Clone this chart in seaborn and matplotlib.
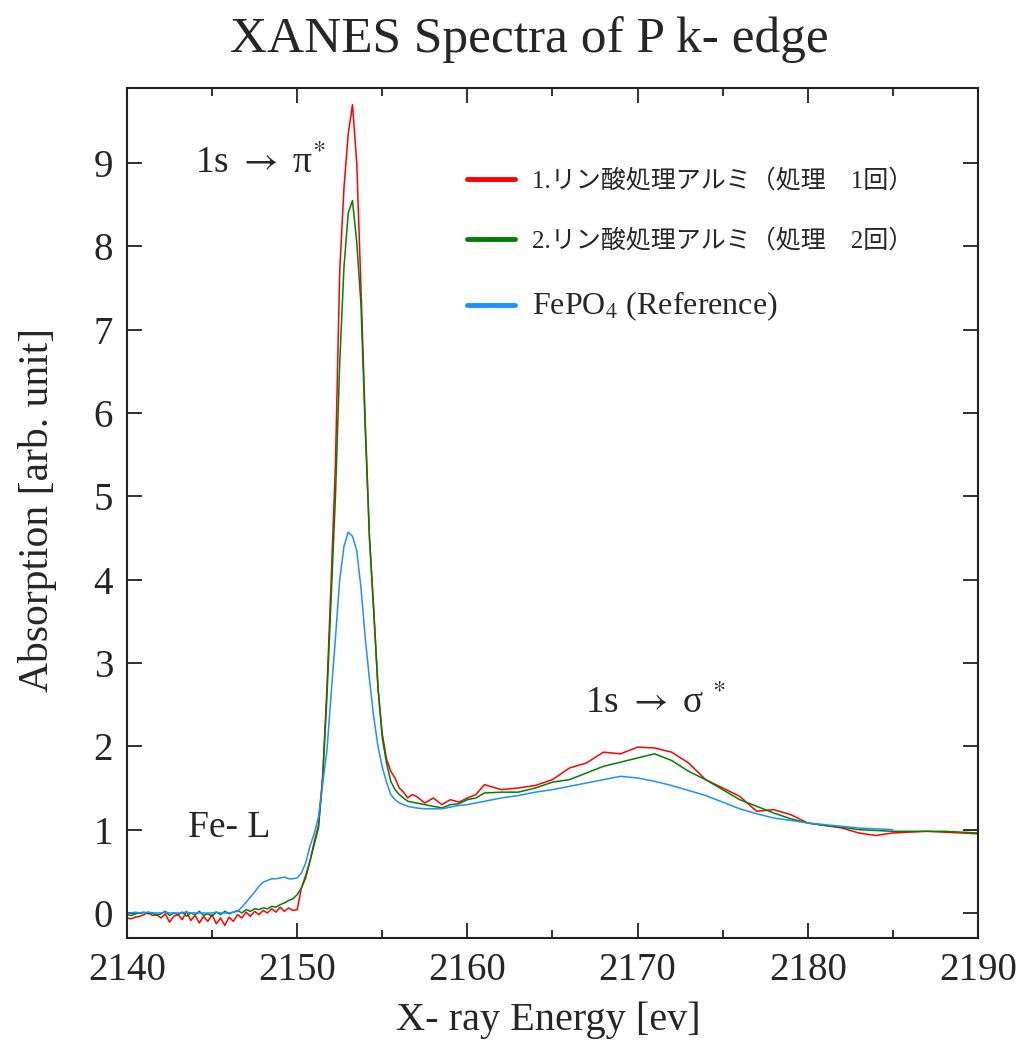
import numpy as np
import matplotlib
matplotlib.use('Agg')
import matplotlib.pyplot as plt
from matplotlib.ticker import MultipleLocator
import seaborn as sns

# X-ray energy grid [eV] (fine around the edge, coarser above it)
energy = [
    2140.0, 2140.25, 2140.5, 2140.75, 2141.0, 2141.25, 2141.5, 2141.75, 2142.0, 2142.25,
    2142.5, 2142.75, 2143.0, 2143.25, 2143.5, 2143.75, 2144.0, 2144.25, 2144.5, 2144.75,
    2145.0, 2145.25, 2145.5, 2145.75, 2146.0, 2146.25, 2146.5, 2146.75, 2147.0, 2147.25,
    2147.5, 2147.75, 2148.0, 2148.25, 2148.5, 2148.75, 2149.0, 2149.25, 2149.5, 2149.75,
    2150.0,
    2150.25, 2150.5, 2150.75, 2151.0, 2151.25, 2151.5, 2151.75, 2152.0, 2152.25, 2152.5,
    2152.75, 2153.0, 2153.25, 2153.5, 2153.75, 2154.0, 2154.25, 2154.5, 2154.75, 2155.0,
    2155.25, 2155.5, 2155.75, 2156.0, 2156.25, 2156.5, 2156.75, 2157.0,
    2157.5, 2158.0, 2158.5, 2159.0, 2159.5, 2160.0, 2160.5, 2161.0,
    2162, 2163, 2164, 2165, 2166, 2167, 2168, 2169, 2170, 2171,
    2172, 2173, 2174, 2175, 2176, 2177, 2178, 2179, 2180, 2181,
    2182, 2183, 2184, 2185, 2186, 2187, 2188, 2189, 2190,
]

# 1. リン酸処理アルミ (1 treatment)
sample1 = [
    -0.06, -0.07, -0.05, -0.04, -0.02, 0.01, -0.03, -0.02, -0.06, -0.01,
    -0.11, -0.04, -0.02, -0.08, 0.02, -0.09, -0.03, -0.12, -0.04, -0.10,
    -0.02, -0.13, -0.06, -0.15, -0.05, -0.10, -0.02, -0.06, 0.01, -0.04,
    0.02, -0.02, 0.03, 0.00, 0.05, 0.01, 0.07, 0.02, 0.06, 0.03,
    0.04,
    0.30, 0.42, 0.62, 0.85, 1.05, 1.65, 2.70, 4.00, 5.40, 7.70,
    8.70, 9.35, 9.70, 9.00, 7.50, 5.90, 4.50, 3.65, 2.70, 2.15,
    1.85, 1.70, 1.62, 1.50, 1.45, 1.38, 1.42, 1.40,
    1.32, 1.38, 1.30, 1.36, 1.33, 1.38, 1.42, 1.54,
    1.48, 1.50, 1.53, 1.60, 1.74, 1.80, 1.93, 1.91, 1.99, 1.98,
    1.93, 1.80, 1.60, 1.50, 1.40, 1.22, 1.24, 1.18, 1.08, 1.05,
    1.02, 0.96, 0.93, 0.96, 0.97, 0.98, 0.97, 0.96, 0.95,
]

# 2. リン酸処理アルミ (2 treatments)
sample2 = [
    -0.02, -0.03, -0.01, 0.00, 0.01, -0.01, 0.00, -0.03, -0.01, 0.02,
    -0.03, 0.00, -0.02, 0.01, -0.04, 0.00, -0.02, 0.02, -0.03, -0.01,
    -0.04, 0.01, -0.02, 0.02, -0.01, 0.01, 0.03, 0.00, 0.04, 0.02,
    0.05, 0.04, 0.06, 0.05, 0.08, 0.07, 0.10, 0.12, 0.15, 0.17,
    0.22,
    0.30, 0.45, 0.62, 0.82, 1.02, 1.60, 2.60, 3.80, 5.00, 6.60,
    7.75, 8.40, 8.55, 8.05, 7.30, 5.80, 4.50, 3.60, 2.70, 2.10,
    1.80, 1.58, 1.48, 1.42, 1.38, 1.34, 1.33, 1.32,
    1.30, 1.28, 1.26, 1.30, 1.31, 1.36, 1.38, 1.44,
    1.45, 1.45, 1.50, 1.57, 1.60, 1.68, 1.76, 1.81, 1.86, 1.91,
    1.83, 1.70, 1.60, 1.48, 1.36, 1.28, 1.20, 1.13, 1.08, 1.05,
    1.03, 1.00, 0.99, 0.98, 0.98, 0.98, 0.98, 0.97, 0.96,
]

# FePO4 reference
reference = [
    0.00, 0.00, 0.01, 0.00, 0.00, 0.01, 0.00, 0.00, 0.00, 0.01,
    0.00, 0.00, 0.00, 0.00, 0.01, 0.00, 0.00, 0.00, 0.00, 0.00,
    0.00, 0.01, 0.00, 0.00, 0.00, 0.01, 0.02, 0.07, 0.13, 0.19,
    0.25, 0.32, 0.37, 0.39, 0.41, 0.41, 0.42, 0.43, 0.41, 0.41,
    0.42,
    0.48, 0.60, 0.80, 0.95, 1.15, 1.55, 1.95, 2.64, 3.30, 4.00,
    4.40, 4.57, 4.52, 4.35, 3.90, 3.30, 2.80, 2.35, 2.00, 1.75,
    1.57, 1.42, 1.36, 1.32, 1.30, 1.28, 1.27, 1.26,
    1.25, 1.25, 1.25, 1.27, 1.29, 1.30, 1.32, 1.34,
    1.38, 1.41, 1.45, 1.48, 1.52, 1.56, 1.60, 1.64, 1.62, 1.58,
    1.53, 1.47, 1.41, 1.33, 1.25, 1.19, 1.14, 1.11, 1.08, 1.06,
    1.04, 1.02, 1.01, 1.00, np.nan, np.nan, np.nan, np.nan, np.nan,
]

labels = ['1.リン酸処理アルミ（処理　1回）',
          '2.リン酸処理アルミ（処理　2回）',
          'FePO$_4$ (Reference)']
colors = ['#ff0000', '#008000', '#1e90ff']

sns.set_theme(style='ticks')
plt.rcParams['font.family'] = ['Liberation Serif', 'Noto Sans CJK JP', 'DejaVu Sans']
plt.rcParams['mathtext.fontset'] = 'stix'

fig = plt.figure(figsize=(10.24, 10.52), dpi=100)
ax = fig.add_axes([0.124, 0.1084, 0.831, 0.8079])

for series, lab, col in zip([sample1, sample2, reference], labels, colors):
    sns.lineplot(x=energy, y=series, ax=ax, color=col, label=lab,
                 linewidth=1.1, estimator=None, sort=False)

ax.set_xlim(2140, 2190)
ax.set_ylim(-0.3, 9.9)
ax.xaxis.set_major_locator(MultipleLocator(10))
ax.xaxis.set_minor_locator(MultipleLocator(5))
ax.yaxis.set_major_locator(MultipleLocator(1))
ax.tick_params(which='both', direction='in', top=True, right=True, width=1.3, color='#222222')
ax.tick_params(which='major', length=11, labelsize=28, pad=10)
ax.tick_params(which='minor', length=6)
ax.tick_params(axis='y', which='minor', left=False, right=False)
for sp in ax.spines.values():
    sp.set_linewidth(1.5)
    sp.set_color('#222222')

ax.set_xlabel('')
ax.set_ylabel('')
fig.text(0.535, 0.030, 'X- ray Energy [ev]', ha='center', va='center', fontsize=29)
fig.text(0.037, 0.515, 'Absorption [arb. unit]', ha='center', va='center',
         rotation=90, fontsize=30)
fig.text(0.517, 0.962, 'XANES Spectra of P k- edge', ha='center', va='center', fontsize=37)

ax.text(2144.0, 9.0, '1s $\\rightarrow$ π$^{*}$', ha='left', va='center', fontsize=27)
ax.text(2166.9, 2.52, '1s $\\rightarrow$ σ $^{*}$', ha='left', va='center', fontsize=27)
ax.text(2143.6, 1.02, 'Fe- L', ha='left', va='center', fontsize=27)

leg = ax.legend(loc='upper left', bbox_to_anchor=(0.40, 0.905), frameon=False,
                fontsize=18, handlelength=1.9, handletextpad=0.7, labelspacing=1.45,
                borderpad=0, borderaxespad=0)
for line in leg.get_lines():
    line.set_linewidth(3.5)
leg.get_texts()[2].set_fontsize(23)

fig.savefig('out.png', dpi=100)
